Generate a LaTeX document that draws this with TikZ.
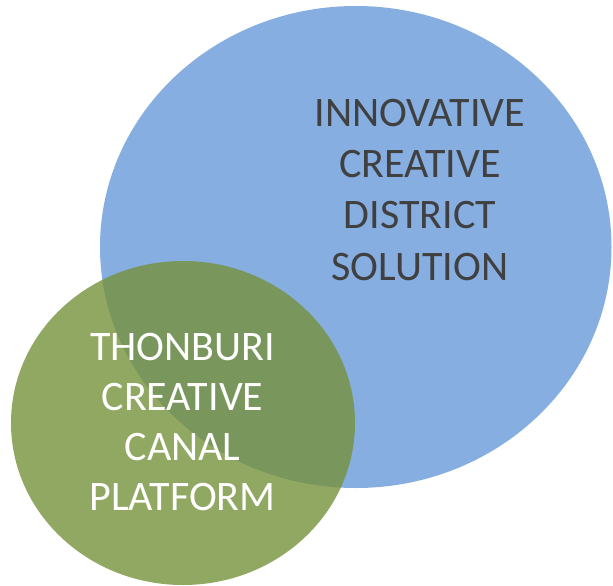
\documentclass[tikz,border=0pt]{standalone}
\usepackage{fontspec}
\setmainfont{Carlito}
\usetikzlibrary{shapes.geometric}
\definecolor{bluefill}{RGB}{134,174,224}
\definecolor{greenfill}{RGB}{118,146,60}
\definecolor{darktext}{RGB}{64,64,64}
\tikzset{
  bubble/.style={ellipse, inner sep=0pt, draw=none},
  label text/.style={align=center, font=\fontsize{42}{51.1}\selectfont, inner sep=0pt}
}
\begin{document}
\begin{tikzpicture}[x=1pt,y=-1pt]
\useasboundingbox (0,0) rectangle (613,586);
\node[bubble, fill=bluefill, minimum width=511.5pt, minimum height=482pt] (blue) at (355.75,247) {};
\node[bubble, fill=greenfill, fill opacity=0.8, minimum width=344pt, minimum height=324pt] (green) at (183,423) {};
\node[label text, text=darktext, anchor=base] (bt) at (420,280) {INNOVATIVE\\CREATIVE\\DISTRICT\\SOLUTION};
\node[label text, text=white, anchor=base, font=\fontsize{42}{49.7}\selectfont] (gt) at (182.5,510) {THONBURI\\CREATIVE\\CANAL\\PLATFORM};
\end{tikzpicture}
\end{document}
